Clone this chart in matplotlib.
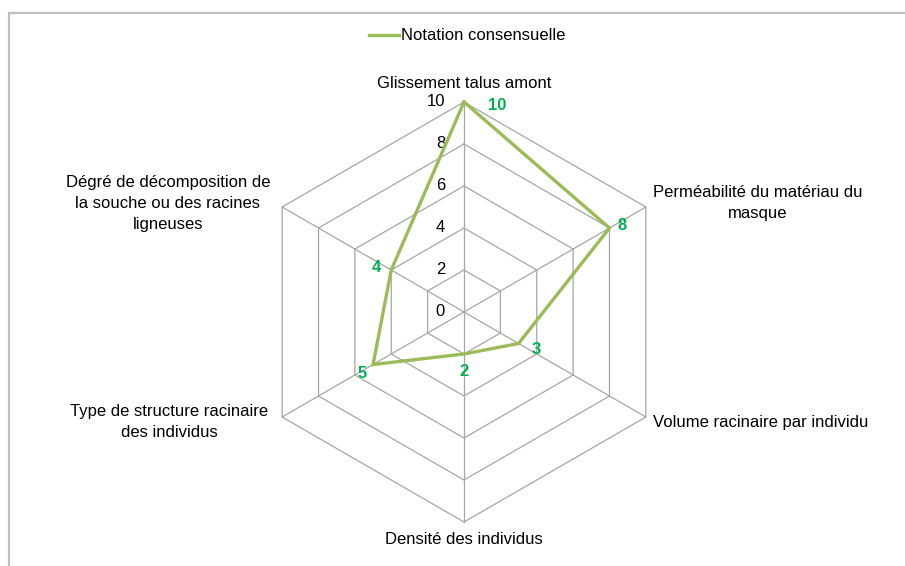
#!/usr/bin/env python3
"""Radar chart: notation consensuelle (6 criteria, scale 0-10)."""

import numpy as np
import matplotlib.pyplot as plt
from matplotlib.patches import Rectangle

plt.rcParams["font.family"] = ["Liberation Sans", "DejaVu Sans"]

CATEGORIES = [
    "Glissement talus amont",
    "Perméabilité du matériau du\nmasque",
    "Volume racinaire par individu",
    "Densité des individus",
    "Type de structure racinaire\ndes individus",
    "Dégré de décomposition de\nla souche ou des racines\nligneuses",
]
VALUES = [10, 8, 3, 2, 5, 4]
SERIES_NAME = "Notation consensuelle"
TICKS = [0, 2, 4, 6, 8, 10]
RMAX = 10

LINE_COLOR = "#9BBB59"
LABEL_COLOR = "#00B050"
GRID_COLOR = "#A6A6A6"

W, H = 905, 566
CX, CY = 464, 312      # centre in pixels (from top-left)
PX_PER_UNIT = 21.0

# label placement, offsets in pixels (x right, y up)
CAT_OFFSETS = [(0, 19, "center"), (7, 4, "left"), (7, -5, "left"),
               (0, -18, "center"), (-14, -5, "right"), (-12, 3, "right")]
VAL_OFFSETS = [(33, -4), (13, 3), (18, -5.5), (0, -18), (-11, -8.5), (-15, 3)]

fig = plt.figure(figsize=(W / 100, H / 100), dpi=100)
ax = fig.add_axes([0, 0, 1, 1])
ax.set_xlim(-CX / PX_PER_UNIT, (W - CX) / PX_PER_UNIT)
ax.set_ylim(-(H - CY) / PX_PER_UNIT, CY / PX_PER_UNIT)
ax.axis("off")

n = len(CATEGORIES)
angles = np.deg2rad(90 - 360 / n * np.arange(n))
ux, uy = np.cos(angles), np.sin(angles)

# grid hexagons and spokes
for level in TICKS[1:]:
    ax.plot(np.append(ux, ux[0]) * level, np.append(uy, uy[0]) * level,
            color=GRID_COLOR, lw=0.9, zorder=1)
for i in range(n):
    ax.plot([0, ux[i] * RMAX], [0, uy[i] * RMAX], color=GRID_COLOR, lw=0.9, zorder=1)

# tick labels along the top axis
for t in TICKS:
    ax.annotate(str(t), (0, t), xytext=(-19, 0), textcoords="offset pixels",
                ha="right", va="center", fontsize=12, color="black")

# series
vals = np.array(VALUES, dtype=float)
xs, ys = ux * vals, uy * vals
ax.plot(np.append(xs, xs[0]), np.append(ys, ys[0]), color=LINE_COLOR, lw=2.4,
        solid_joinstyle="miter", zorder=3, label=SERIES_NAME)

for i, v in enumerate(VALUES):
    dx, dy = VAL_OFFSETS[i]
    ax.annotate(str(v), (xs[i], ys[i]), xytext=(dx, dy), textcoords="offset pixels",
                ha="center", va="center", fontsize=12, fontweight="bold",
                color=LABEL_COLOR, zorder=4)

# category labels
for i, cat in enumerate(CATEGORIES):
    dx, dy, ha = CAT_OFFSETS[i]
    ax.annotate(cat, (ux[i] * RMAX, uy[i] * RMAX), xytext=(dx, dy),
                textcoords="offset pixels", ha=ha, va="center",
                multialignment="center", fontsize=12, color="black",
                linespacing=1.5)

# legend
fig.legend(loc="center", bbox_to_anchor=(467 / W, 1 - 36 / H), frameon=False,
           fontsize=12, handlelength=1.8, handletextpad=0.1)

# chart frame (only top and left edges visible)
fig.patches.append(Rectangle((9 / W, -0.1), 1.2, 1.1 - 13 / H, transform=fig.transFigure,
                             fill=False, edgecolor="#BFBFBF", lw=1.6))

fig.savefig("out.png", dpi=100)
